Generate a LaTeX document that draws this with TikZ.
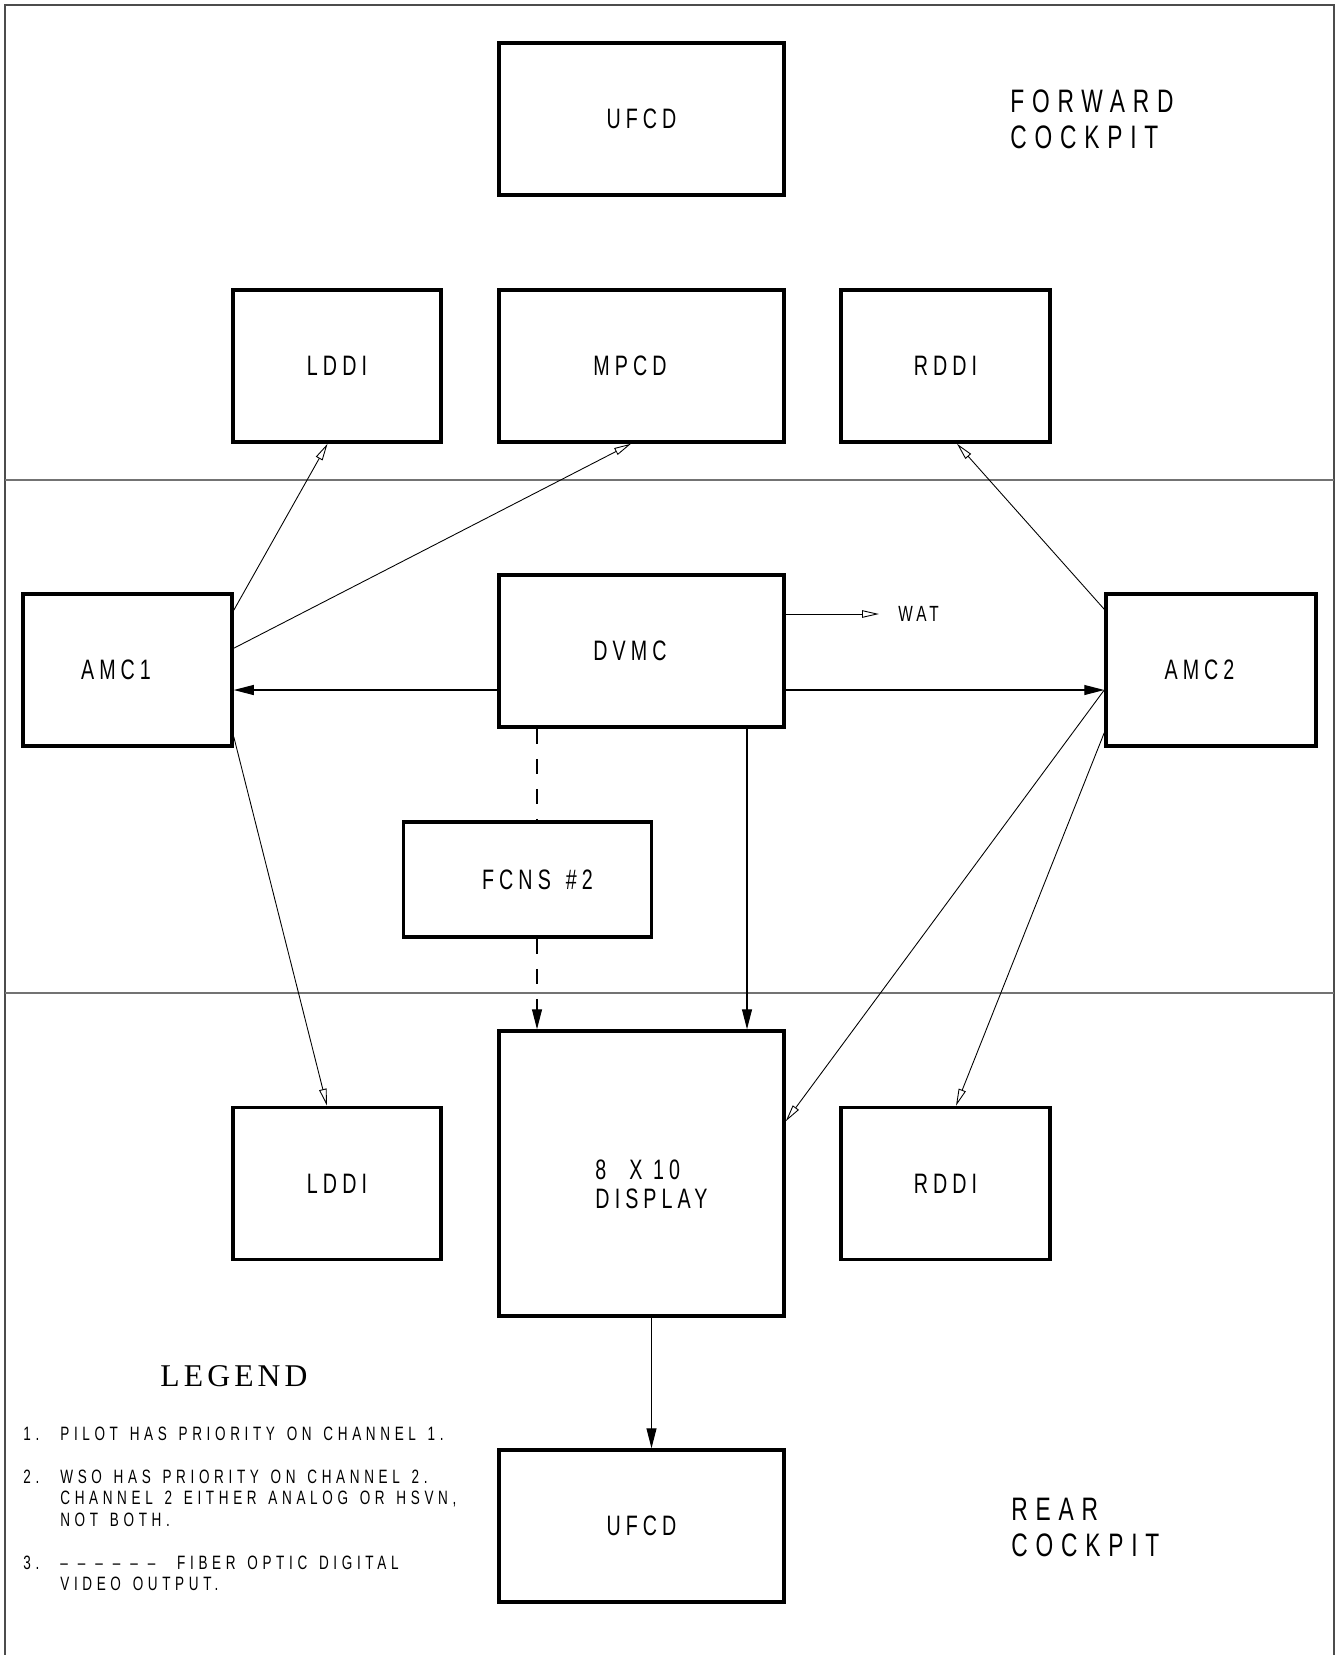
\documentclass[tikz,border=0pt]{standalone}
\usepackage{fontspec}
\setmainfont{Liberation Sans}[FakeStretch=0.7, LetterSpace=18]
\newfontfamily\zonesans{Liberation Sans}[FakeStretch=0.7, LetterSpace=24]
\newfontfamily\notesans{Liberation Sans}[FakeStretch=0.7, LetterSpace=24, WordSpace=1.4]
\newfontfamily\legendserif{Liberation Serif}[LetterSpace=13]
\usetikzlibrary{arrows.meta}
\newcommand\unitfont{\fontsize{16}{16.5}\selectfont}
\newcommand\notefont{\notesans\fontsize{11}{12.2}\selectfont}
\newcommand\zonefont{\zonesans\fontsize{18.5}{20.5}\selectfont}
\newcommand\watfont{\fontsize{12.5}{14}\selectfont}
\newcommand\fiberdash{\textendash\hspace*{0.2cm}}
\tikzset{
  unit/.style={draw, line width=2pt, minimum width=5.7cm, minimum height=3.04cm,
               inner sep=2pt, align=center, font=\unitfont},
  sig/.style={line width=0.6pt, -{Triangle[length=4mm,width=2mm]}},
  feed/.style={line width=0.5pt, -{Triangle[open,length=3.4mm,width=1.5mm]}},
  fiber/.style={line width=0.6pt, dash pattern=on 0.3cm off 0.3cm},
  frame/.style={draw=black!70, line width=0.6pt},
  zone/.style={draw=black!55, line width=0.6pt},
  zonelab/.style={anchor=west, inner sep=0pt, align=left, font=\zonefont},
}
\begin{document}
\begin{tikzpicture}[font=\unitfont]
\useasboundingbox (0,0) rectangle (26.76,-33.1);

% frame and cockpit zones
\draw[frame] (0.1,-33.1) -- (0.1,-0.1) -- (26.68,-0.1) -- (26.68,-33.1);
\draw[zone] (0.1,-9.6) -- (26.68,-9.6);
\draw[zone] (0.1,-19.86) -- (26.68,-19.86);

\node[zonelab] (fwd) at (20.2,-2.39) {FORWARD\\COCKPIT};
\node[zonelab] (rear) at (20.22,-30.55) {REAR\\COCKPIT};

% forward cockpit
\node[unit] (ufcdF) at (12.83,-2.38) {UFCD};
\node[unit, minimum width=4.16cm] (lddiF) at (6.74,-7.32) {LDDI};
\node[unit] (mpcd) at (12.83,-7.32) {MPCD\hspace*{0.46cm}};
\node[unit, minimum width=4.18cm] (rddiF) at (18.91,-7.32) {RDDI};

% computers
\node[unit, minimum width=4.18cm] (amcA) at (2.55,-13.40) {AMC1\hspace*{0.46cm}};
\node[unit] (dvmc) at (12.83,-13.02) {DVMC\hspace*{0.46cm}};
\node[unit, minimum width=4.2cm] (amcB) at (24.22,-13.40) {AMC2\hspace*{0.46cm}};
\node[unit, minimum width=4.96cm, minimum height=2.3cm] (fcns) at (10.55,-17.59)
  {\hspace*{0.4cm}FCNS\hspace{0.3cm}\#2};
\node[anchor=west, inner sep=0pt, font=\watfont] (wat) at (17.96,-12.28) {WAT};

% rear cockpit
\node[unit, minimum height=5.7cm,
      label={[align=left, xshift=0.2cm, yshift=-0.22cm]center:8\hspace{0.25cm} X 10\\DISPLAY}]
  (disp) at (12.83,-23.47) {};
\node[unit, minimum width=4.16cm] (lddiR) at (6.74,-23.67) {LDDI};
\node[unit, minimum width=4.18cm] (rddiR) at (18.91,-23.67) {RDDI};
\node[unit] (ufcdR) at (12.83,-30.52) {UFCD};

% AMC1 outputs
\draw[feed] ([yshift=-0.36cm]amcA.north east) -- ([xshift=-0.19cm]lddiF.south);
\draw[feed] ([yshift=-1.12cm]amcA.north east) -- ([xshift=-0.21cm]mpcd.south);
\draw[feed] ([yshift=0.22cm]amcA.south east) -- ([xshift=-0.2cm]lddiR.north);

% DVMC outputs
\draw[sig] ([yshift=-0.78cm]dvmc.west) -- ([yshift=-0.78cm]dvmc.west -| amcA.east);
\draw[sig] ([yshift=-0.78cm]dvmc.east) -- ([yshift=-0.78cm]dvmc.east -| amcB.west);
\draw[feed] (dvmc.east |- wat.west) -- ([xshift=-0.38cm]wat.west);
\draw[sig] ([xshift=2.11cm]dvmc.south) -- ([xshift=2.11cm]dvmc.south |- disp.north);
\draw[fiber] ([xshift=-2.09cm]dvmc.south) -- ([xshift=-2.09cm]dvmc.south |- fcns.north);
\draw[sig, fiber] ([xshift=-2.09cm]dvmc.south |- fcns.south)
  -- ([xshift=-2.09cm]dvmc.south |- disp.north);

% AMC2 outputs
\draw[feed] ([yshift=-0.34cm]amcB.north west) -- ([xshift=0.23cm]rddiF.south);
\draw[feed] ([yshift=-0.78cm]dvmc.east -| amcB.west) -- ([yshift=-1.84cm]disp.north east);
\draw[feed] ([yshift=0.3cm]amcB.south west) -- ([xshift=0.21cm]rddiR.north);

\draw[sig] ([xshift=0.2cm]disp.south) -- ([xshift=0.2cm]disp.south |- ufcdR.north);

% legend
\node[inner sep=0pt, font=\legendserif\fontsize{18}{20}\selectfont] (legend)
  at (4.68,-27.53) {LEGEND};
\node[anchor=north west, inner sep=0pt, font=\notefont] (notes) at (0.46,-28.5)
  {\begin{tabular}{@{}p{0.74cm}@{}l@{}}
   1. & PILOT HAS PRIORITY ON CHANNEL 1.\\[0.43cm]
   2. & WSO HAS PRIORITY ON CHANNEL 2.\\
      & CHANNEL 2 EITHER ANALOG OR HSVN,\\
      & NOT BOTH.\\[0.43cm]
   3. & \fiberdash\fiberdash\fiberdash\fiberdash\fiberdash\fiberdash\ FIBER OPTIC DIGITAL\\
      & VIDEO OUTPUT.
   \end{tabular}};

\end{tikzpicture}
\end{document}
